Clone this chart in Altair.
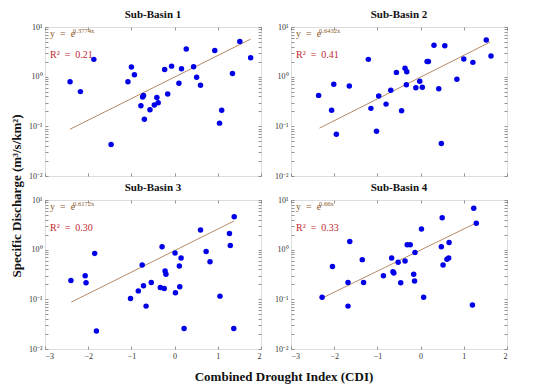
import altair as alt
import pandas as pd

# ---------------- data ----------------
basins = ["Sub-Basin 1", "Sub-Basin 2", "Sub-Basin 3", "Sub-Basin 4"]

b1_x = [-2.42, -2.18, -1.87, -1.47, -1.08, -1.00, -0.93, -0.78, -0.74, -0.72, -0.70, -0.57, -0.47, -0.41, -0.38,
        -0.23, -0.16, -0.07, 0.10, 0.16, 0.27, 0.44, 0.51, 0.60, 0.93, 1.04, 1.09, 1.34, 1.51, 1.76]
b1_y = [0.79, 0.50, 2.23, 0.043, 0.79, 1.56, 1.09, 0.26, 0.39, 0.42, 0.139, 0.215, 0.27, 0.38, 0.30,
        1.40, 0.45, 1.63, 0.74, 1.44, 3.6, 1.58, 0.97, 0.67, 3.38, 0.116, 0.21, 1.16, 5.1, 2.41]

b2_x = [-2.36, -2.06, -2.01, -1.95, -1.65, -1.21, -1.15, -1.02, -0.97, -0.80, -0.69, -0.56, -0.44, -0.36, -0.32,
        -0.33, -0.11, -0.02, 0.04, 0.15, 0.18, 0.31, 0.42, 0.48, 0.56, 0.84, 1.00, 1.21, 1.52, 1.63]
b2_y = [0.42, 0.21, 0.70, 0.069, 0.65, 2.23, 0.23, 0.080, 0.41, 0.28, 0.53, 1.22, 0.205, 1.47, 1.26,
        0.69, 0.60, 0.81, 0.61, 2.03, 2.03, 4.3, 0.57, 0.045, 4.2, 0.89, 2.26, 1.94, 5.5, 2.6]

b3_x = [-2.40, -2.07, -2.05, -1.85, -1.81, -1.02, -0.84, -0.75, -0.72, -0.66, -0.54, -0.33, -0.29, -0.24, -0.22,
        -0.20, 0.01, 0.02, 0.11, 0.12, 0.15, 0.22, 0.60, 0.73, 0.82, 1.05, 1.27, 1.29, 1.37, 1.38]
b3_y = [0.24, 0.30, 0.215, 0.84, 0.023, 0.104, 0.148, 0.49, 0.187, 0.073, 0.218, 0.173, 1.14, 0.165, 0.37,
        0.32, 0.86, 0.135, 0.47, 0.18, 0.68, 0.026, 2.5, 0.92, 0.57, 0.116, 2.11, 1.21, 0.026, 4.6]

b4_x = [-2.28, -2.04, -1.68, -1.68, -1.64, -1.35, -1.32, -0.86, -0.67, -0.64, -0.62, -0.52, -0.46, -0.36, -0.31,
        -0.24, -0.16, -0.14, -0.13, 0.02, 0.07, 0.48, 0.50, 0.52, 0.61, 0.65, 0.66, 1.20, 1.23, 1.29]
b4_y = [0.11, 0.46, 0.218, 0.073, 1.46, 0.63, 0.218, 0.30, 0.68, 0.36, 0.34, 0.56, 0.215, 0.59, 1.26,
        1.26, 0.32, 0.235, 0.88, 2.6, 0.11, 1.15, 4.4, 0.49, 0.64, 0.68, 1.40, 0.077, 6.8, 3.4]

# fitted exponential trend lines (end points)
fit_x = [[-2.42, 1.76], [-2.34, 1.61], [-2.39, 1.375], [-2.27, 1.285]]
fit_y = [[0.0875, 5.7], [0.092, 4.98], [0.088, 3.78], [0.107, 3.45]]

exponents = ["0.3774x", "0.6432x", "0.6172x", "0.66x"]
r2_values = ["0.21", "0.41", "0.30", "0.33"]

x_ticks = [-3, -2, -1, 0, 1, 2]
y_ticks = [0.01, 0.02, 0.03, 0.04, 0.05, 0.06, 0.07, 0.08, 0.09,
           0.1, 0.2, 0.3, 0.4, 0.5, 0.6, 0.7, 0.8, 0.9,
           1, 2, 3, 4, 5, 6, 7, 8, 9, 10]

xs = [b1_x, b2_x, b3_x, b4_x]
ys = [b1_y, b2_y, b3_y, b4_y]

# ---------------- styling ----------------
FONT = "Liberation Serif"
FRAME = "#7a7a7a"
W, H = 216, 149

y_label_expr = ("abs(datum.value-0.01)<1e-9 ? '10⁻²' : abs(datum.value-0.1)<1e-9 ? '10⁻¹' : "
                "abs(datum.value-1)<1e-9 ? '10⁰' : abs(datum.value-10)<1e-9 ? '10¹' : ''")


def axis_common(**kw):
    base = dict(domain=False, grid=False, ticks=True, tickSize=3, offset=-3, tickColor=FRAME,
                tickWidth=0.8, labelFont=FONT, labelFontSize=8, labelColor="#333", title=None,
                minExtent=0)
    base.update(kw)
    return alt.Axis(**base)


def panel(i, show_x_labels):
    df = pd.DataFrame({"cdi": xs[i], "q": ys[i]})
    line_df = pd.DataFrame({"lx": fit_x[i], "ly": fit_y[i]})
    xscale = alt.Scale(domain=[-3, 2], nice=False, zero=False)
    yscale = alt.Scale(type="log", domain=[0.01, 10], nice=False)

    pts = alt.Chart(df).mark_circle(size=30, color="#0000e8", opacity=1).encode(
        x=alt.X("cdi:Q", scale=xscale,
                axis=axis_common(values=x_ticks, labels=show_x_labels, labelPadding=3, orient="bottom")),
        y=alt.Y("q:Q", scale=yscale,
                axis=axis_common(values=y_ticks, labelExpr=y_label_expr, labelPadding=3, orient="left")),
    )
    line = alt.Chart(line_df).mark_line(color="#b98a66", strokeWidth=1).encode(
        x=alt.X("lx:Q", scale=xscale, axis=axis_common(values=x_ticks, labels=False, orient="top")),
        y=alt.Y("ly:Q", scale=yscale, axis=axis_common(values=y_ticks, labels=False, orient="right")),
    )
    tdf = pd.DataFrame({"eq": ["y\u00a0\u00a0=\u00a0\u00a0e"], "sup": [exponents[i]],
                        "r2": ["R² \u00a0=\u00a0 " + r2_values[i]]})
    eq = alt.Chart(tdf).mark_text(align="left", baseline="alphabetic", font=FONT, fontSize=10,
                                  color="#8b5a2b").encode(
        x=alt.value(5), y=alt.value(10), text="eq:N")
    sup = alt.Chart(tdf).mark_text(align="left", baseline="alphabetic", font=FONT, fontSize=6.5,
                                   color="#8b5a2b").encode(
        x=alt.value(28), y=alt.value(6), text="sup:N")
    r2 = alt.Chart(tdf).mark_text(align="left", baseline="alphabetic", font=FONT, fontSize=10,
                                  color="#c0282d").encode(
        x=alt.value(5), y=alt.value(31), text="r2:N")

    return alt.layer(line, pts, eq, sup, r2).resolve_axis(x="independent", y="independent").properties(
        width=W, height=H,
        title=alt.TitleParams(basins[i], font=FONT, fontSize=11, fontWeight="bold", color="#111", offset=3),
    )


row1 = alt.hconcat(panel(0, False), panel(1, False), spacing=12)
row2 = alt.hconcat(panel(2, True), panel(3, True), spacing=12)
grid = alt.vconcat(row1, row2, spacing=0).properties(
    title=alt.TitleParams("Combined Drought Index (CDI)", orient="bottom", anchor="middle", font=FONT,
                          fontSize=13, fontWeight="bold", color="#111", offset=10, dx=16)
)
chart = alt.hconcat(grid).properties(
    title=alt.TitleParams("Specific Discharge (m³/s/km²)", orient="left", anchor="middle", font=FONT,
                          fontSize=13, fontWeight="bold", color="#111", offset=4),
    padding={"left": 3, "top": 0, "right": 5, "bottom": 3},
).configure_view(stroke=FRAME, strokeWidth=1).configure(background="white")

chart.save("out.html", embed_options={"renderer": "svg", "actions": False})
